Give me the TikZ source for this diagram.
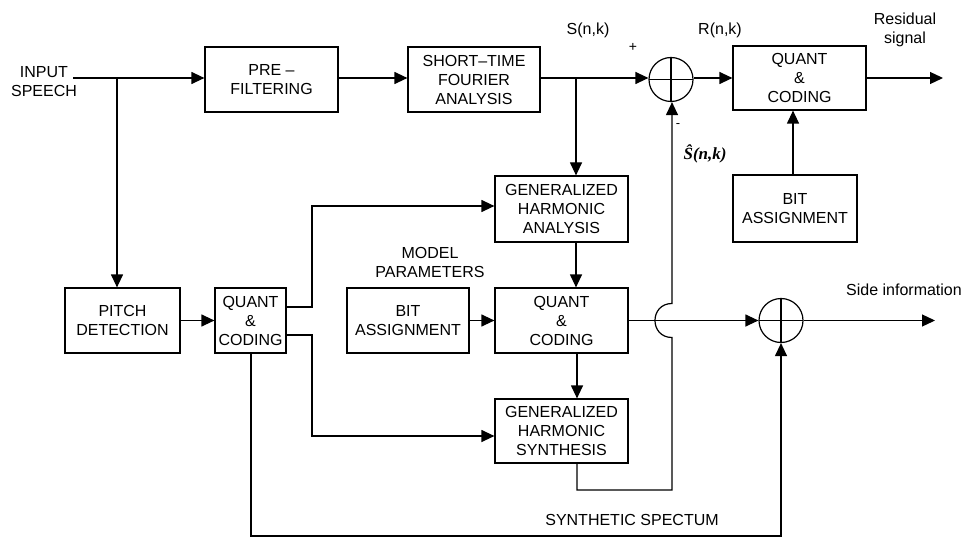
\documentclass[tikz,border=0pt]{standalone}
\usepackage[no-math]{fontspec}
\setmainfont{Liberation Sans}
\newfontfamily\serifit{Liberation Serif}
\usetikzlibrary{arrows.meta}
\begin{document}
\begin{tikzpicture}[x=1pt,y=-1pt,
  line width=1.2pt,
  every node/.style={font=\fontsize{16}{19}\selectfont},
  blk/.style={draw, align=center, inner sep=0pt},
  summer/.style={draw, circle, minimum size=44pt, inner sep=0pt,
    path picture={\draw[line width=1.2pt] (path picture bounding box.north) -- (path picture bounding box.south)
      (path picture bounding box.west) -- (path picture bounding box.east);}},
  arr/.style={-{Triangle[length=13pt,width=12pt]}},
  lbl/.style={align=center, inner sep=0pt}
]
\useasboundingbox (0,0) rectangle (973,537);

% blocks
\node[blk, minimum width=133pt, minimum height=65pt] (pre) at (271.5,79.5) {PRE --\\FILTERING};
\node[blk, minimum width=132pt, minimum height=65pt] (stft) at (474,79.5) {SHORT--TIME\\FOURIER\\ANALYSIS};
\node[summer] (sum1) at (671,79.5) {};
\node[blk, minimum width=133pt, minimum height=64pt] (q3) at (799.5,78) {QUANT\\\&\\CODING};
\node[blk, minimum width=124pt, minimum height=67pt] (bit3) at (795,208.5) {BIT\\ASSIGNMENT};
\node[blk, minimum width=133pt, minimum height=66pt] (gha) at (561.5,209) {GENERALIZED\\HARMONIC\\ANALYSIS};
\node[blk, minimum width=115pt, minimum height=65pt] (pitch) at (122.5,320.5) {PITCH\\DETECTION};
\node[blk, minimum width=71pt, minimum height=65pt] (q1) at (250.5,320.5) {QUANT\\\&\\CODING};
\node[blk, minimum width=122pt, minimum height=65pt] (bit2) at (408,320.5) {BIT\\ASSIGNMENT};
\node[blk, minimum width=133pt, minimum height=65pt] (q2) at (561.5,320.5) {QUANT\\\&\\CODING};
\node[blk, minimum width=133pt, minimum height=64pt] (ghs) at (561.5,431) {GENERALIZED\\HARMONIC\\SYNTHESIS};
\node[summer] (sum2) at (781,320.5) {};

% labels
\node[lbl] (inlbl) at (44,82) {INPUT\\SPEECH};
\node[lbl] (slbl) at (588,30) {S(n,k)};
\node[lbl] (rlbl) at (720,30) {R(n,k)};
\node[lbl, font=\fontsize{14}{14}\selectfont] (plus) at (633,47) {+};
\node[lbl, font=\fontsize{13}{13}\selectfont] (minus) at (678,126) {-};
\node[lbl] (reslbl) at (905,30) {Residual\\signal};
\node[lbl, anchor=west, font=\fontsize{17}{19}\serifit\bfseries\itshape] (shat) at (683,154) {Ŝ(n,k)};
\node[lbl] (mplbl) at (430,262) {MODEL\\PARAMETERS};
\node[lbl] (silbl) at (904,290) {Side information};
\node[lbl] (sslbl) at (632,520) {SYNTHETIC SPECTUM};

% coordinates
\coordinate (in) at (73,78);
\coordinate (j) at (117,78);
\coordinate (b1) at (576,78);
\coordinate (out1) at (943,78);
\coordinate (out2) at (935,320.5);
\coordinate (q1a) at (q1.east |- 0,307);
\coordinate (q1b) at (q1.east |- 0,335);
\coordinate (xv) at (312,0);
\coordinate (fb) at (672,0);
\coordinate (bot) at (0,536);

% connectors
\draw[arr] (in) -- (in -| pre.west);
\draw[arr] (j) -- (j |- pitch.north);
\draw[arr] (pre.east |- 0,78) -- (stft.west |- 0,78);
\draw[arr] (stft.east |- 0,78) -- (sum1.west |- 0,78);
\draw[arr] (b1) -- (b1 |- gha.north);
\draw[arr] (sum1.east |- 0,78) -- (q3.west |- 0,78);
\draw[arr] (q3.east |- 0,78) -- (out1);
\draw[arr] (bit3.north -| 793,0) -- (q3.south -| 793,0);
\draw[arr] (pitch.east) -- (q1.west);
\draw[arr] (q1a) -- (xv |- q1a) -- (xv |- 0,206) -- (gha.west |- 0,206);
\draw[arr] (q1b) -- (xv |- q1b) -- (xv |- 0,436) -- (ghs.west |- 0,436);
\draw[arr] (gha.south -| b1) -- (q2.north -| b1);
\draw[arr] (bit2.east) -- (q2.west);
\draw[arr] (q2.east) -- (sum2.west);
\draw[arr] (q2.south -| 577,0) -- (ghs.north -| 577,0);
\draw[arr] (ghs.south -| 577,0) -- (577,490) -- (fb |- 0,490) -- (672,337.5)
  .. controls (649.3,337.5) and (649.3,303.5) .. (672,303.5) -- (fb |- sum1.south);
\draw[arr] (q1.south -| 251,0) -- (251,536) -- (sum2.south |- bot) -- (sum2.south);
\draw[arr] (sum2.east) -- (out2);
\end{tikzpicture}
\end{document}
